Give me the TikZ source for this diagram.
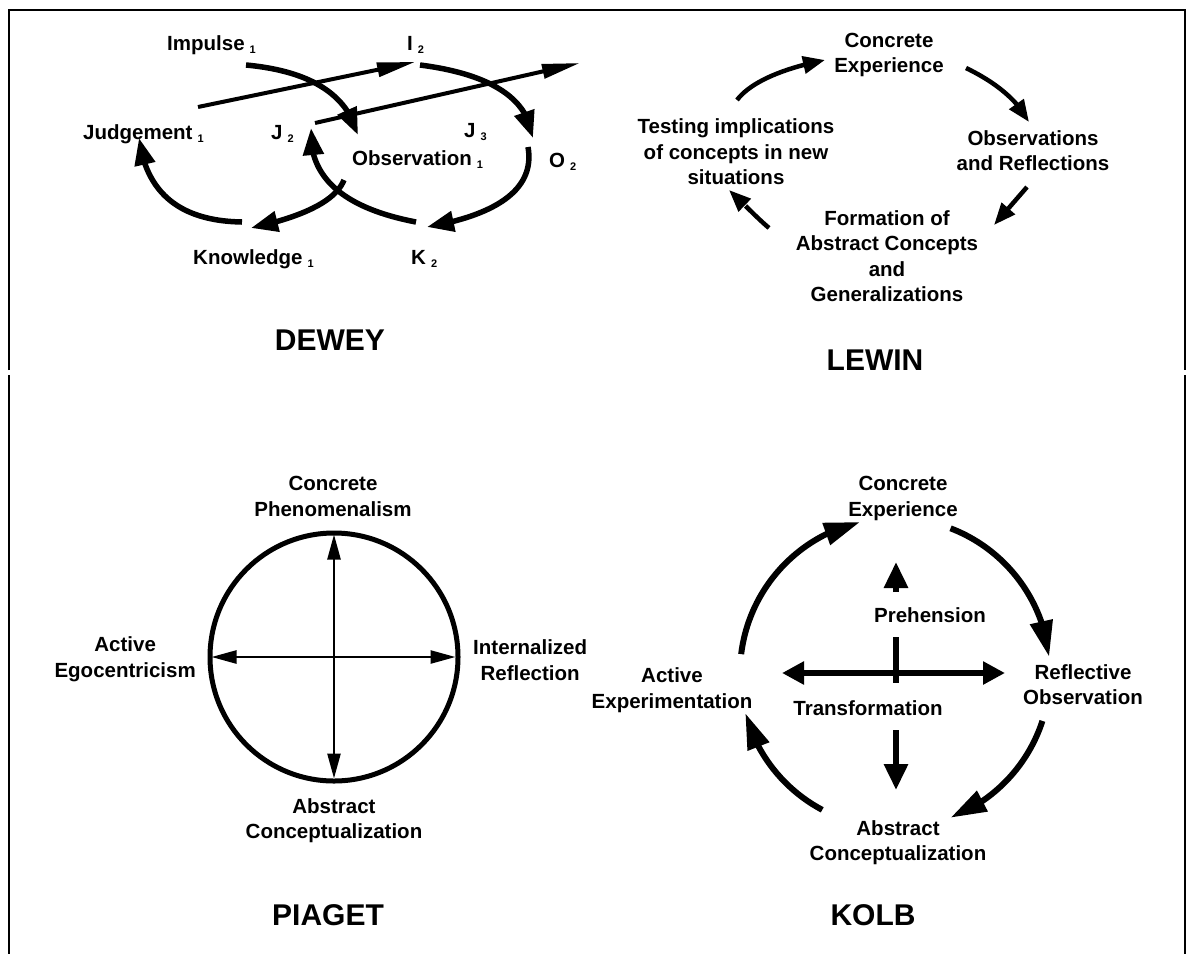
\documentclass[tikz,border=0pt]{standalone}
\usepackage{fontspec}
\setmainfont{Liberation Sans}
\usetikzlibrary{arrows.meta,bending,calc}
% small lowered index after a stage name (Impulse 1, J 2, ...)
\newcommand\subidx[1]{\hspace{5pt}\raisebox{-3pt}{\fontsize{11}{11}\selectfont\bfseries #1}}
\begin{document}
\begin{tikzpicture}[x=1pt,y=-1pt,
  lbl/.style={inner sep=0pt,align=center,font=\fontsize{20.5}{25.5}\selectfont\bfseries},
  lblb/.style={lbl,anchor=base west},
  ttl/.style={inner sep=0pt,font=\fontsize{30}{34}\selectfont\bfseries},
  border/.style={line width=2.5pt},
  dwarc/.style={line width=5.5pt,-{Triangle[length=27pt,width=20pt]}},
  dwline/.style={line width=4pt,-{Triangle[length=38pt,width=14pt]}},
  lwarc/.style={line width=4.5pt,-{Triangle[length=22pt,width=17pt]}},
  pgaxis/.style={line width=2.5pt,{Triangle[length=25pt,width=13pt]}-{Triangle[length=25pt,width=13pt]}},
  kbarc/.style={line width=6pt,-{Triangle[length=36pt,width=22pt]}},
  kbbar/.style={line width=6pt},
  kbhead/.style={line width=6pt,-{Triangle[length=26pt,width=23pt]}},
  kbboth/.style={line width=5.5pt,{Triangle[length=22pt,width=22pt]}-{Triangle[length=22pt,width=22pt]}},
]
\useasboundingbox (0,0) rectangle (1188,954);

% outer frame, broken between the two rows
\draw[border] (9,370) -- (9,10) -- (1185,10) -- (1185,370);
\draw[border] (9,375) -- (9,954);
\draw[border] (1185,375) -- (1185,954);

% ---------------- DEWEY ----------------
\node[lblb] (imp1) at (167,50) {Impulse\subidx{1}};
\node[lblb] (imp2) at (407,50) {I\subidx{2}};
\node[lblb] (jud1) at (83,139) {Judgement\subidx{1}};
\node[lblb] (jud2) at (271,139) {J\subidx{2}};
\node[lblb] (jud3) at (464,137) {J\subidx{3}};
\node[lblb] (obs1) at (352,165) {Observation\subidx{1}};
\node[lblb] (obs2) at (549,167) {O\subidx{2}};
\node[lblb] (kno1) at (193,264) {Knowledge\subidx{1}};
\node[lblb] (kno2) at (411,264) {K\subidx{2}};

\coordinate (dA0) at (246,65);  \coordinate (dA1) at (358,135);
\coordinate (dB0) at (198,107); \coordinate (dB1) at (415,62);
\coordinate (dC0) at (420,65);  \coordinate (dC1) at (533,138);
\coordinate (dD0) at (315,123); \coordinate (dD1) at (580,63);
\coordinate (dE0) at (528,147); \coordinate (dE1) at (427,227);
\coordinate (dF0) at (416,222); \coordinate (dF1) at (311,128);
\coordinate (dG0) at (344,180); \coordinate (dG1) at (251,228);
\coordinate (dH0) at (242,222); \coordinate (dH1) at (139,138);

\draw[dwarc] (dA0) .. controls (310,71) and (347,94) .. (dA1);
\draw[dwline] (dB0) -- (dB1);
\draw[dwarc] (dC0) .. controls (490,74) and (528,98) .. (dC1);
\draw[dwline] (dD0) -- (dD1);
\draw[dwarc] (dE0) .. controls (535,187) and (501,214) .. (dE1);
\draw[dwarc] (dF0) .. controls (343,208) and (308,177) .. (dF1);
\draw[dwarc] (dG0) .. controls (336,200) and (306,216) .. (dG1);
\draw[dwarc] (dH0) .. controls (180,221) and (146,193) .. (dH1);

\node[ttl] (dewey) at (330,340) {DEWEY};

% ---------------- LEWIN ----------------
\node[lbl] (lce) at (889,55) {Concrete\\Experience};
\node[lbl] (lor) at (1033,150.5) {Observations\\and Reflections};
\node[lbl] (lfa) at (887,256) {Formation of\\Abstract Concepts\\and\\Generalizations};
\node[lbl] (lti) at (736,152) {Testing implications\\of concepts in new\\situations};

\coordinate (lw1a) at (737,100);  \coordinate (lw1b) at (825,60);
\coordinate (lw2a) at (966,68);   \coordinate (lw2b) at (1029,122);
\coordinate (lw3a) at (1027,187); \coordinate (lw3b) at (994,225);
\coordinate (lw4a) at (769,228);  \coordinate (lw4b) at (729,190);
\draw[lwarc] (lw1a) .. controls (750,83) and (780,69) .. (lw1b);
\draw[lwarc] (lw2a) .. controls (997,83) and (1018,101) .. (lw2b);
\draw[lwarc] (lw3a) -- (lw3b);
\draw[lwarc] (lw4a) .. controls (756,217) and (740,200) .. (lw4b);

\node[ttl] (lewin) at (875,360) {LEWIN};

% ---------------- PIAGET ----------------
\node[draw,circle,line width=5pt,minimum size=248pt,inner sep=0pt] (pc) at (334,657) {};
\draw[pgaxis] ([yshift=-4pt]pc.north) -- ([yshift=5pt]pc.south);
\draw[pgaxis] ([xshift=4pt]pc.west) -- ([xshift=-5pt]pc.east);

\node[lbl] (pcp) at (333,496.5) {Concrete\\Phenomenalism};
\node[lbl,anchor=west] (pir) at (473,660) {Internalized\\Reflection};
\node[lbl,anchor=east] (pae) at (196,659) {Active\\Egocentricism};
\node[lbl] (pac) at (334,820.5) {Abstract\\Conceptualization};

\node[ttl] (piaget) at (328,915) {PIAGET};

% ---------------- KOLB ----------------
\coordinate (kc) at (895,673);
\draw[kbarc] ($(kc)+(187:155)$) arc[start angle=187,end angle=257,radius=155];
\draw[kbarc] ($(kc)+(291:155)$) arc[start angle=291,end angle=354,radius=155];
\draw[kbarc] ($(kc)+(18:155)$) arc[start angle=18,end angle=69,radius=155];
\draw[kbarc] ($(kc)+(118:155)$) arc[start angle=118,end angle=165,radius=155];

\node[lbl] (kce) at (903,498.5) {Concrete\\Experience};
\node[lbl] (kro) at (1083,684.5) {Reflective\\Observation};
\node[lbl] (kae) at (672,690) {Active\\Experimentation};
\node[lbl] (kac) at (898,842.5) {Abstract\\Conceptualization};
\node[lbl] (kpr) at (930,615) {Prehension};
\node[lbl] (ktr) at (868,708) {Transformation};

\coordinate (kup0) at (896,592); \coordinate (kup1) at (896,562);
\coordinate (kst0) at (896,637); \coordinate (kst1) at (896,683);
\coordinate (kh0) at (782,673);  \coordinate (kh1) at (1005,673);
\coordinate (kdn0) at (896,730); \coordinate (kdn1) at (896,790);
\draw[kbhead] (kup0) -- (kup1);
\draw[kbbar] (kst0) -- (kst1);
\draw[kbboth] (kh0) -- (kh1);
\draw[kbhead] (kdn0) -- (kdn1);

\node[ttl] (kolb) at (873,915) {KOLB};
\end{tikzpicture}
\end{document}
